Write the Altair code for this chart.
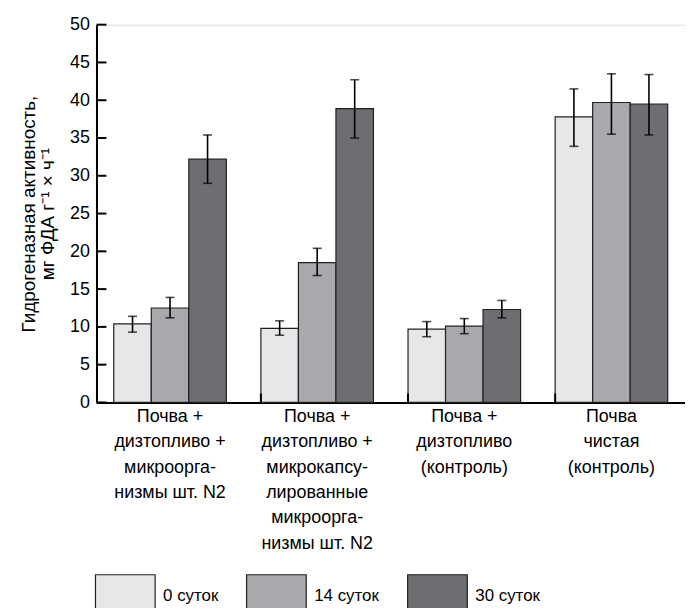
import altair as alt
import pandas as pd

groups = [
    "Почва +|дизтопливо +|микроорга-|низмы шт. N2",
    "Почва +|дизтопливо +|микрокапсу-|лированные|микроорга-|низмы шт. N2",
    "Почва +|дизтопливо|(контроль)",
    "Почва|чистая|(контроль)",
]
series = ["0 суток", "14 суток", "30 суток"]
colors = ["#e6e7e8", "#a7a9ac", "#6d6e71"]

mean_0 = [10.4, 9.8, 9.7, 37.8]
mean_14 = [12.5, 18.5, 10.1, 39.7]
mean_30 = [32.2, 38.9, 12.3, 39.5]
lo_0 = [9.3, 8.9, 8.7, 33.9]
lo_14 = [11.2, 16.8, 9.1, 35.5]
lo_30 = [29.0, 35.0, 11.2, 35.4]
hi_0 = [11.4, 10.8, 10.7, 41.5]
hi_14 = [13.9, 20.4, 11.1, 43.5]
hi_30 = [35.4, 42.7, 13.5, 43.4]

y_ticks = [0, 5, 10, 15, 20, 25, 30, 35, 40, 45, 50]
x_tick_groups = groups[1:]

rows = []
for s, m, lo, hi in zip(series, [mean_0, mean_14, mean_30], [lo_0, lo_14, lo_30], [hi_0, hi_14, hi_30]):
    for g, mv, lv, hv in zip(groups, m, lo, hi):
        rows.append({"group": g, "series": s, "value": mv, "lo": lv, "hi": hv})
df = pd.DataFrame(rows)

FONT = "Liberation Sans"
W, H = 592, 380

x_scale = alt.Scale(domain=groups, paddingInner=0.235, paddingOuter=0.1175)
x_axis = alt.Axis(
    title=None,
    labelAngle=0,
    ticks=False,
    labelExpr="split(datum.label, '|')",
    labelFontSize=18,
    labelLineHeight=25.5,
    labelPadding=5,
    labelColor="black",
    labelFont=FONT,
    labelOverlap=False,
    domainColor="black",
    domainWidth=2,
)
x_off = alt.XOffset("series:N", scale=alt.Scale(domain=series, paddingInner=0, paddingOuter=0))
y_scale = alt.Scale(domain=[0, 50], nice=False)
y_axis = alt.Axis(
    title=["Гидрогеназная активность,", "мг ФДА г⁻¹ × ч⁻¹"],
    titleFontSize=19,
    titleFontWeight="normal",
    titleFont=FONT,
    titleColor="black",
    titleLineHeight=19,
    titlePadding=12,
    values=y_ticks,
    tickCount=11,
    labelOverlap=False,
    ticks=False,
    grid=False,
    labelFontSize=18,
    labelFont=FONT,
    labelColor="black",
    labelPadding=7,
    domainColor="black",
    domainWidth=2,
)

bars = alt.Chart(df).mark_bar(stroke="#231f20", strokeWidth=1.2).encode(
    x=alt.X("group:N", scale=x_scale, axis=x_axis),
    xOffset=x_off,
    y=alt.Y("value:Q", scale=y_scale, axis=y_axis),
    fill=alt.Fill(
        "series:N",
        scale=alt.Scale(domain=series, range=colors),
        legend=alt.Legend(
            title=None,
            orient="none",
            legendX=-2,
            legendY=543,
            direction="horizontal",
            columns=3,
            columnPadding=25,
            symbolType="M-1,-0.7H1V0.7H-1Z",
            symbolSize=3600,
            symbolStrokeColor="#231f20",
            symbolStrokeWidth=1.2,
            symbolOpacity=1,
            labelFontSize=17,
            labelFont=FONT,
            labelColor="black",
            labelOffset=7,
            padding=0,
        ),
    ),
)

rules = alt.Chart(df).mark_rule(color="black", strokeWidth=1.6).encode(
    x=alt.X("group:N", scale=x_scale, axis=x_axis),
    xOffset=x_off,
    y=alt.Y("lo:Q", scale=y_scale, axis=y_axis),
    y2="hi:Q",
)
caps_lo = alt.Chart(df).mark_tick(color="black", thickness=1.6, size=9).encode(
    x=alt.X("group:N", scale=x_scale, axis=x_axis),
    xOffset=x_off,
    y=alt.Y("lo:Q", scale=y_scale, axis=y_axis),
)
caps_hi = alt.Chart(df).mark_tick(color="black", thickness=1.6, size=9).encode(
    x=alt.X("group:N", scale=x_scale, axis=x_axis),
    xOffset=x_off,
    y=alt.Y("hi:Q", scale=y_scale, axis=y_axis),
)

yt = alt.Chart(pd.DataFrame({"t": y_ticks})).mark_rule(color="black", strokeWidth=2).encode(
    y=alt.Y("t:Q", scale=y_scale, axis=y_axis),
    x=alt.value(0),
    x2=alt.value(10),
)
xt = alt.Chart(pd.DataFrame({"g": x_tick_groups})).mark_rule(color="black", strokeWidth=2).encode(
    x=alt.X("g:N", scale=x_scale, axis=x_axis, bandPosition=0),
    y=alt.value(H),
    y2=alt.value(H - 9),
)

chart = alt.layer(bars, rules, caps_lo, caps_hi, yt, xt).properties(
    width=W,
    height=H,
    padding={"left": 89, "top": 15, "right": 0, "bottom": 205},
    autosize=alt.AutoSizeParams(type="none"),
).configure_view(stroke=None).configure(font=FONT)

chart.save("out.html", embed_options={"renderer": "svg", "actions": False})
